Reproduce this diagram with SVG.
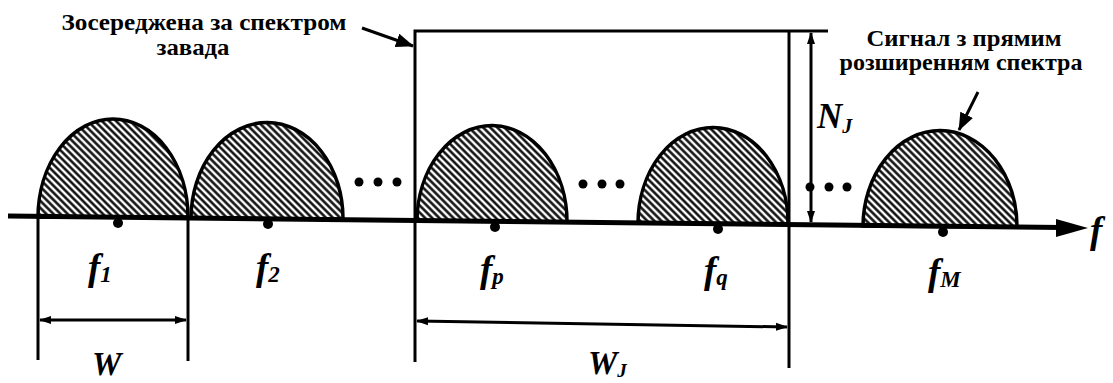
<svg xmlns="http://www.w3.org/2000/svg" width="1113" height="383" viewBox="0 0 1113 383">
<style>
.ln{stroke:#000;stroke-width:3;fill:none}
.hump{fill:url(#hatch);stroke:#000;stroke-width:3.5}
.dot{fill:#000}
.txt{font-weight:bold;font-size:24px;fill:#000}
.math{font-weight:bold;font-style:italic;fill:#000}
</style>
<defs>
<pattern id="hatch" width="5" height="10" patternUnits="userSpaceOnUse" patternTransform="rotate(-45)">
<rect width="5" height="10" fill="#fff"/>
<line x1="1.5" y1="0" x2="1.5" y2="10" stroke="#000" stroke-width="2.4"/>
</pattern>
<marker id="ah" markerWidth="12" markerHeight="10" refX="11" refY="5" orient="auto-start-reverse" markerUnits="userSpaceOnUse">
<path d="M0,1 L12,5 L0,9 Z" fill="#000"/>
</marker>
<marker id="ahb" markerWidth="18" markerHeight="14" refX="17" refY="7" orient="auto" markerUnits="userSpaceOnUse">
<path d="M0,0 L18,7 L0,14 Z" fill="#000"/>
</marker>
</defs>

<g id="humps">
<g id="hump1"><path class="hump" d="M38,217 A75,98 0 0 1 188,217 Z"/><circle class="dot" cx="118" cy="223" r="5"/></g>
<g id="hump2"><path class="hump" d="M191,218 A76,96 0 0 1 343,219 Z"/><circle class="dot" cx="268" cy="224" r="5"/></g>
<g id="hump3"><path class="hump" d="M417,221 A75,96 0 0 1 567,222 Z"/><circle class="dot" cx="495" cy="227" r="5"/></g>
<g id="hump4"><path class="hump" d="M638,223 A75,96 0 0 1 788,224 Z"/><circle class="dot" cx="718" cy="229" r="5"/></g>
<g id="hump5"><path class="hump" d="M863,226 A77,96 0 0 1 1017,227 Z"/><circle class="dot" cx="943" cy="232" r="5"/></g>
</g>

<g id="ellipses">
<circle class="dot" cx="359" cy="182" r="4.5"/><circle class="dot" cx="378" cy="182" r="4.5"/><circle class="dot" cx="397" cy="182" r="4.5"/>
<circle class="dot" cx="583" cy="184" r="4.5"/><circle class="dot" cx="602" cy="184" r="4.5"/><circle class="dot" cx="620" cy="184" r="4.5"/>
<circle class="dot" cx="810" cy="187" r="4.5"/><circle class="dot" cx="829" cy="187" r="4.5"/><circle class="dot" cx="847" cy="187" r="4.5"/>
</g>

<g id="jammer">
<polyline class="ln" points="415,362 415,31 828,31"/>
<line class="ln" x1="789" y1="31" x2="789" y2="368"/>
</g>

<g id="connectors">
<line x1="8" y1="216" x2="1062" y2="227.5" stroke="#000" stroke-width="5"/>
<path d="M1056,219 L1088,228 L1056,237 Z" fill="#000"/>
<line class="ln" x1="38" y1="217" x2="38" y2="360"/>
<line class="ln" x1="188" y1="217" x2="188" y2="361"/>
<line class="ln" x1="40" y1="320" x2="186" y2="320" marker-start="url(#ah)" marker-end="url(#ah)"/>
<line class="ln" x1="417" y1="321" x2="787" y2="327" marker-start="url(#ah)" marker-end="url(#ah)"/>
<line class="ln" x1="811" y1="33" x2="811" y2="222" marker-start="url(#ah)" marker-end="url(#ah)"/>
<line class="ln" x1="362" y1="28" x2="413" y2="46" marker-end="url(#ahb)"/>
<line class="ln" x1="978" y1="92" x2="959" y2="130" marker-end="url(#ahb)"/>
</g>

<g id="labels" font-family="Liberation Serif, Times New Roman, DejaVu Serif, serif">
<text class="txt" x="204" y="30" text-anchor="middle" textLength="285" lengthAdjust="spacingAndGlyphs">Зосереджена за спектром</text>
<text class="txt" x="193" y="55" text-anchor="middle" textLength="73" lengthAdjust="spacingAndGlyphs">завада</text>
<text class="txt" x="964" y="46" text-anchor="middle" textLength="195" lengthAdjust="spacingAndGlyphs">Сигнал з прямим</text>
<text class="txt" x="961" y="70" text-anchor="middle" textLength="243" lengthAdjust="spacingAndGlyphs">розширенням спектра</text>
<text class="math" x="817" y="128" font-size="35">N<tspan font-size="20" dy="5">J</tspan></text>
<text class="math" x="1090" y="243" font-size="37">f</text>
<text class="math" x="88" y="280" font-size="37">f<tspan font-size="23" dy="2">1</tspan></text>
<text class="math" x="256" y="280" font-size="37">f<tspan font-size="23" dy="2">2</tspan></text>
<text class="math" x="480" y="282" font-size="37">f<tspan font-size="23" dy="2">p</tspan></text>
<text class="math" x="704" y="283" font-size="37">f<tspan font-size="23" dy="2">q</tspan></text>
<text class="math" x="928" y="285" font-size="37">f<tspan font-size="23" dy="2">M</tspan></text>
<text class="math" x="92" y="375" font-size="33">W</text>
<text class="math" x="588" y="374" font-size="33">W<tspan font-size="19" dy="3">J</tspan></text>
</g>
</svg>
